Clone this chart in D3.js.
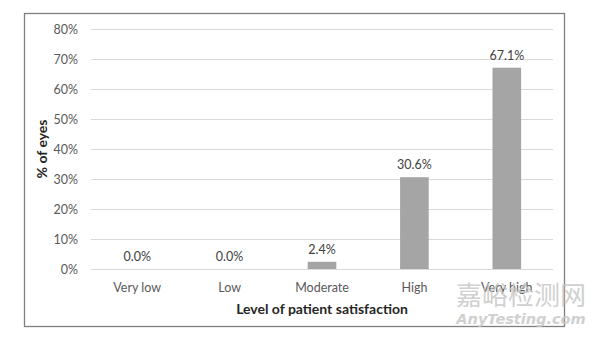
<!DOCTYPE html>
<html><head><meta charset="utf-8">
<script src="https://cdn.jsdelivr.net/npm/d3@7"></script>
<style>body{margin:0;background:#fff}svg{display:block}</style>
</head><body>
<svg id="c" width="600" height="337"></svg>
<script>
const categories = ["Very low","Low","Moderate","High","Very high"];
const values = [0.0, 0.0, 2.4, 30.6, 67.1];
const yTicks = [0,10,20,30,40,50,60,70,80];
const xTitle = "Level of patient satisfaction";
const yTitle = "% of eyes";

const svg = d3.select("#c");
const font = "Lato, 'Open Sans', sans-serif";
const m = {left:91, right:47, top:29, bottom:68};
const W = 600, H = 337;

svg.append("rect").attr("x",24.5).attr("y",13.5).attr("width",540).attr("height",313)
  .attr("fill","#fff").attr("stroke","#7f7f7f").attr("stroke-width",1.3);

const x = d3.scaleBand().domain(categories).range([m.left, W-m.right]).paddingInner(0.69).paddingOuter(0.345);
const y = d3.scaleLinear().domain([0,80]).range([H-m.bottom, m.top]);

const yAxis = svg.append("g").attr("transform",`translate(${m.left},0)`)
  .call(d3.axisLeft(y).tickValues(yTicks).tickFormat(d=>d+"%").tickSize(-(W-m.right-m.left)).tickPadding(13));
yAxis.select(".domain").remove();
yAxis.selectAll("line").attr("stroke","#d9d9d9");
yAxis.selectAll("text").attr("fill","#595959").style("font-family",font).style("font-size","12.5px");

svg.selectAll("rect.bar").data(values).join("rect").attr("class","bar")
  .attr("x",(d,i)=>x(categories[i])).attr("width",x.bandwidth())
  .attr("y",d=>y(d)).attr("height",d=>y(0)-y(d)).attr("fill","#a5a5a5");

svg.selectAll("text.val").data(values).join("text").attr("class","val")
  .attr("x",(d,i)=>x(categories[i])+x.bandwidth()/2).attr("y",d=>y(d)-8)
  .attr("text-anchor","middle").attr("fill","#404040").style("font-family",font).style("font-size","12.5px")
  .text(d=>d.toFixed(1)+"%");

const xAxis = svg.append("g").attr("transform",`translate(0,${y(0)})`)
  .call(d3.axisBottom(x).tickSize(0).tickPadding(14));
xAxis.select(".domain").remove();
xAxis.selectAll("text").attr("fill","#595959").style("font-family",font).style("font-size","12.5px");

svg.append("text").attr("x",(m.left+W-m.right)/2).attr("y",314).attr("text-anchor","middle")
  .attr("fill","#262626").style("font-family",font).style("font-size","14px").style("font-weight","bold").text(xTitle);
svg.append("text").attr("transform",`translate(47,${(m.top+H-m.bottom)/2}) rotate(-90)`).attr("text-anchor","middle")
  .attr("fill","#262626").style("font-family",font).style("font-size","14px").style("font-weight","bold").text(yTitle);

// watermark
svg.append("text").attr("x",521).attr("y",305).attr("text-anchor","middle").attr("fill","#c8c8c8").attr("opacity",0.85)
  .style("font-family","'Noto Sans CJK SC', sans-serif").style("font-size","26px").text("嘉峪检测网");
svg.append("text").attr("x",521).attr("y",324).attr("text-anchor","middle").attr("fill","#c8c8c8").attr("opacity",0.85)
  .style("font-family","'DejaVu Sans', sans-serif").style("font-size","14.5px").style("font-style","italic").style("font-weight","bold").text("AnyTesting.com");
</script>
</body></html>
